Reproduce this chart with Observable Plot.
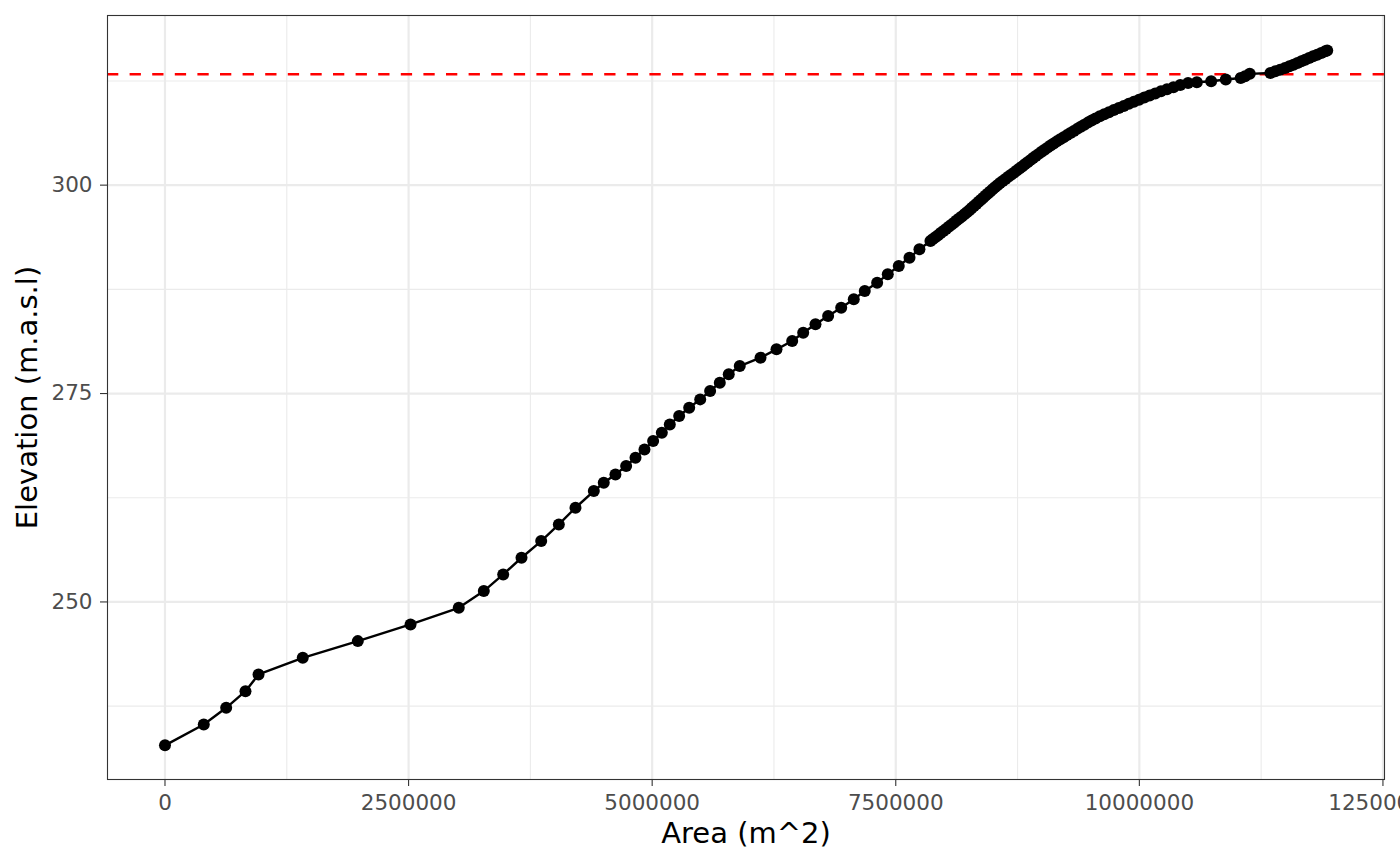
<!DOCTYPE html>
<html>
<head>
<meta charset="utf-8">
<script src="https://cdn.jsdelivr.net/npm/d3@7"></script>
<script src="https://cdn.jsdelivr.net/npm/@observablehq/plot@0.6"></script>
<style>
  html, body { margin: 0; padding: 0; background: white; overflow: hidden; }
  #chart svg { display: block; }
</style>
</head>
<body>
<div id="chart"></div>
<script>
// Area (m^2) and elevation (m.a.s.l) of the hypsometric curve
const area = [
  0, 398000, 628000, 826000, 960000, 1414000, 1979000, 2520000, 3015000, 3272000,
  3471000, 3659000, 3861000, 4042000, 4213000, 4401000, 4503000, 4623000, 4733000, 4829000,
  4921000, 5010000, 5099000, 5181000, 5277000, 5380000, 5493000, 5595000, 5694000, 5786000,
  5899000, 6112000, 6276000, 6437000, 6550000, 6676000, 6806000, 6940000, 7069000, 7182000,
  7309000, 7418000, 7531000, 7641000, 7743000, 7856000,
  7878000, 7906000, 7934000, 7961000, 7989000, 8016000, 8044000, 8071000, 8098000, 8124000,
  8151000, 8178000, 8205000, 8230000, 8255000, 8279000, 8303000, 8327000, 8351000, 8375000,
  8398000, 8422000, 8446000, 8470000, 8494000, 8518000, 8543000, 8570000, 8598000, 8626000,
  8655000, 8684000, 8713000, 8742000, 8770000, 8798000, 8825000, 8853000, 8881000, 8909000,
  8937000, 8967000, 8997000, 9027000, 9058000, 9089000, 9121000, 9154000, 9188000, 9223000,
  9258000, 9293000, 9328000, 9363000, 9399000, 9435000, 9472000, 9510000, 9550000, 9594000,
  9640000, 9688000, 9738000, 9789000, 9840000, 9892000, 9944000, 9997000, 10051000, 10106000,
  10163000, 10222000, 10284000, 10350000, 10420000, 10500000,
  10590000, 10737000, 10887000, 11040000, 11085000, 11133000, 11345000,
  11395000, 11445000, 11495000, 11540000, 11582000, 11623000, 11663000, 11702000, 11742000,
  11783000, 11825000, 11867000, 11908000, 11928000
];
const elevation = [
  232.8, 235.3, 237.3, 239.3, 241.3, 243.3, 245.3, 247.3, 249.3, 251.3,
  253.3, 255.3, 257.3, 259.3, 261.3, 263.3, 264.3, 265.3, 266.3, 267.3,
  268.3, 269.3, 270.3, 271.3, 272.3, 273.3, 274.3, 275.3, 276.3, 277.3,
  278.3, 279.3, 280.3, 281.3, 282.3, 283.3, 284.3, 285.3, 286.3, 287.3,
  288.3, 289.3, 290.3, 291.3, 292.3, 293.3,
  293.5, 293.75, 294, 294.25, 294.5, 294.75, 295, 295.25, 295.5, 295.75,
  296, 296.25, 296.5, 296.75, 297, 297.25, 297.5, 297.75, 298, 298.25,
  298.5, 298.75, 299, 299.25, 299.5, 299.75, 300, 300.25, 300.5, 300.75,
  301, 301.25, 301.5, 301.75, 302, 302.25, 302.5, 302.75, 303, 303.25,
  303.5, 303.75, 304, 304.25, 304.5, 304.75, 305, 305.25, 305.5, 305.75,
  306, 306.25, 306.5, 306.75, 307, 307.25, 307.5, 307.75, 308, 308.25,
  308.5, 308.75, 309, 309.25, 309.5, 309.75, 310, 310.25, 310.5, 310.75,
  311, 311.25, 311.5, 311.75, 312, 312.25,
  312.35, 312.47, 312.67, 312.85, 313.05, 313.35, 313.45,
  313.65, 313.85, 314.05, 314.25, 314.45, 314.65, 314.85, 315.05, 315.25,
  315.45, 315.65, 315.85, 316.05, 316.15
];
const fullSupplyLevel = [313.3];

const xTicks = [0, 2500000, 5000000, 7500000, 10000000, 12500000];
const xMinor = [1250000, 3750000, 6250000, 8750000, 11250000];
const yTicks = [250, 275, 300];
const yMinor = [237.5, 262.5, 287.5, 312.5];

const xLabel = "Area (m^2)";
const yLabel = "Elevation (m.a.s.l)";

const data = area.map((a, i) => ({area: a, elevation: elevation[i]}));

const chart = Plot.plot({
  width: 1400,
  height: 865,
  marginLeft: 107,
  marginRight: 16,
  marginTop: 15,
  marginBottom: 86,
  style: {fontFamily: "DejaVu Sans", fontSize: "21.5px", background: "white"},
  x: {domain: [-590000, 12516000]},
  y: {domain: [228.7, 320.35]},
  marks: [
    Plot.ruleX(xMinor, {stroke: "#EBEBEB", strokeWidth: 1.1}),
    Plot.ruleY(yMinor, {stroke: "#EBEBEB", strokeWidth: 1.1}),
    Plot.ruleX(xTicks, {stroke: "#EBEBEB", strokeWidth: 2.2}),
    Plot.ruleY(yTicks, {stroke: "#EBEBEB", strokeWidth: 2.2}),
    Plot.ruleY(fullSupplyLevel, {stroke: "red", strokeWidth: 2.6, strokeDasharray: "11.3,11.3"}),
    Plot.line(data, {x: "area", y: "elevation", stroke: "black", strokeWidth: 2.4}),
    Plot.dot(data, {x: "area", y: "elevation", r: 6, fill: "black", stroke: "none"}),
    Plot.frame({stroke: "#333333", strokeWidth: 1.1}),
    Plot.axisX(xTicks, {tickFormat: d3.format("d"), tickSize: 7, tickPadding: 8, stroke: "#333333", fill: "#4D4D4D", strokeWidth: 1.1, label: null}),
    Plot.axisY(yTicks, {tickSize: 7, tickPadding: 8, stroke: "#333333", fill: "#4D4D4D", strokeWidth: 1.1, label: null}),
    Plot.text([xLabel], {frameAnchor: "bottom", dy: 54, lineAnchor: "middle", textAnchor: "middle", fontSize: 29, fill: "black", text: d => d}),
    Plot.text([yLabel], {frameAnchor: "left", dx: -80, rotate: -90, lineAnchor: "middle", textAnchor: "middle", fontSize: 29, fill: "black", text: d => d})
  ]
});
document.getElementById("chart").appendChild(chart);
</script>
</body>
</html>
